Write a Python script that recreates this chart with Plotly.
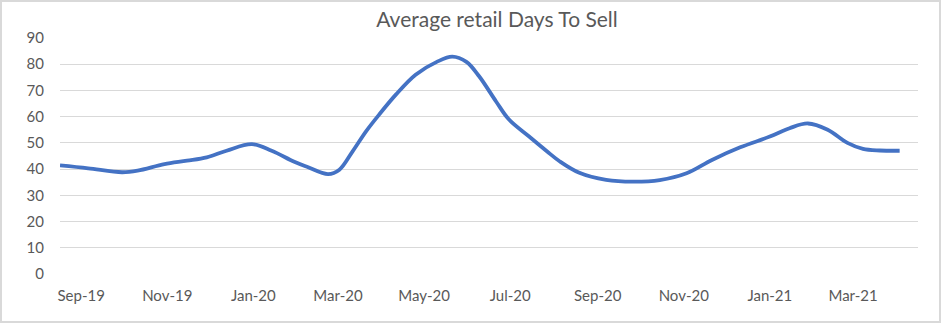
import plotly.graph_objects as go
from datetime import date

# Data
dates = [
    "2019-09-01", "2019-09-21", "2019-10-15", "2019-10-26", "2019-11-14", "2019-11-30",
    "2019-12-14", "2019-12-28", "2020-01-15", "2020-01-29", "2020-02-14", "2020-02-23",
    "2020-03-09", "2020-03-17", "2020-03-26", "2020-04-05", "2020-04-14", "2020-04-26",
    "2020-05-10", "2020-05-25", "2020-06-05", "2020-06-15", "2020-06-24", "2020-07-06",
    "2020-07-15", "2020-07-29", "2020-08-11", "2020-08-20", "2020-09-03", "2020-09-22",
    "2020-10-11", "2020-10-30", "2020-11-18", "2020-12-06", "2020-12-26", "2021-01-16",
    "2021-01-30", "2021-02-12", "2021-02-26", "2021-03-12", "2021-03-23", "2021-04-04",
    "2021-04-18",
]
days_to_sell = [
    41.4, 40.3, 38.8, 39.4, 41.9, 43.2,
    44.5, 47.0, 49.5, 47.0, 42.8, 40.9,
    38.1, 39.8, 46.5, 54.5, 60.7, 68.4,
    76.0, 80.9, 82.9, 80.9, 75.4, 65.8,
    59.0, 52.6, 46.8, 43.0, 38.6, 35.9,
    35.2, 35.8, 38.4, 43.5, 48.3, 52.4,
    55.6, 57.4, 55.0, 50.0, 47.7, 47.1,
    47.0,
]
tick_months = ["2019-09", "2019-11", "2020-01", "2020-03", "2020-05",
               "2020-07", "2020-09", "2020-11", "2021-01", "2021-03"]
tick_labels = ["Sep-19", "Nov-19", "Jan-20", "Mar-20", "May-20",
               "Jul-20", "Sep-20", "Nov-20", "Jan-21", "Mar-21"]
title_text = "Average retail Days To Sell"


def mid_month(ym):
    y, m = map(int, ym.split("-"))
    start = date(y, m, 1)
    nxt = date(y + (m // 12), m % 12 + 1, 1)
    return (start + (nxt - start) / 2).isoformat()


tick_vals = [mid_month(m) for m in tick_months]

W, H = 942, 325
L, R, T, B = 60, 24, 38, 51

fig = go.Figure()
fig.add_trace(go.Scatter(
    x=dates, y=days_to_sell, mode="lines",
    line=dict(color="#4472C4", width=3.8, shape="spline", smoothing=1.0),
    hoverinfo="x+y", showlegend=False,
))

font = "Lato, 'Open Sans', sans-serif"
pw = W - L - R
ph = H - T - B
fig.update_layout(
    width=W, height=H,
    margin=dict(l=L, r=R, t=T, b=B),
    paper_bgcolor="white", plot_bgcolor="white",
    title=dict(text=title_text, x=497 / W, xanchor="center", xref="container",
               y=1 - 20 / H, yanchor="middle", yref="container",
               font=dict(family=font, size=21, color="#595959")),
    xaxis=dict(type="date", range=["2019-09-01", "2021-05-01"],
               tickmode="array", tickvals=tick_vals, ticktext=tick_labels,
               showgrid=False, zeroline=False, showline=False, ticks="",
               ticklabelstandoff=11,
               tickfont=dict(family=font, size=15, color="#595959")),
    yaxis=dict(range=[0, 90], tickmode="linear", tick0=0, dtick=10,
               showgrid=True, gridcolor="#D9D9D9", gridwidth=1.3,
               zeroline=False, showline=False, ticks="",
               ticklabelstandoff=15,
               tickfont=dict(family=font, size=15, color="#595959")),
    shapes=[dict(type="rect", xref="paper", yref="paper",
                 x0=(1 - L) / pw, x1=(W - 2 - L) / pw,
                 y0=-(B - 3) / ph, y1=1 + (T - 1) / ph,
                 line=dict(color="#D9D9D9", width=2), layer="below")],
)

fig.write_html("out.html")
